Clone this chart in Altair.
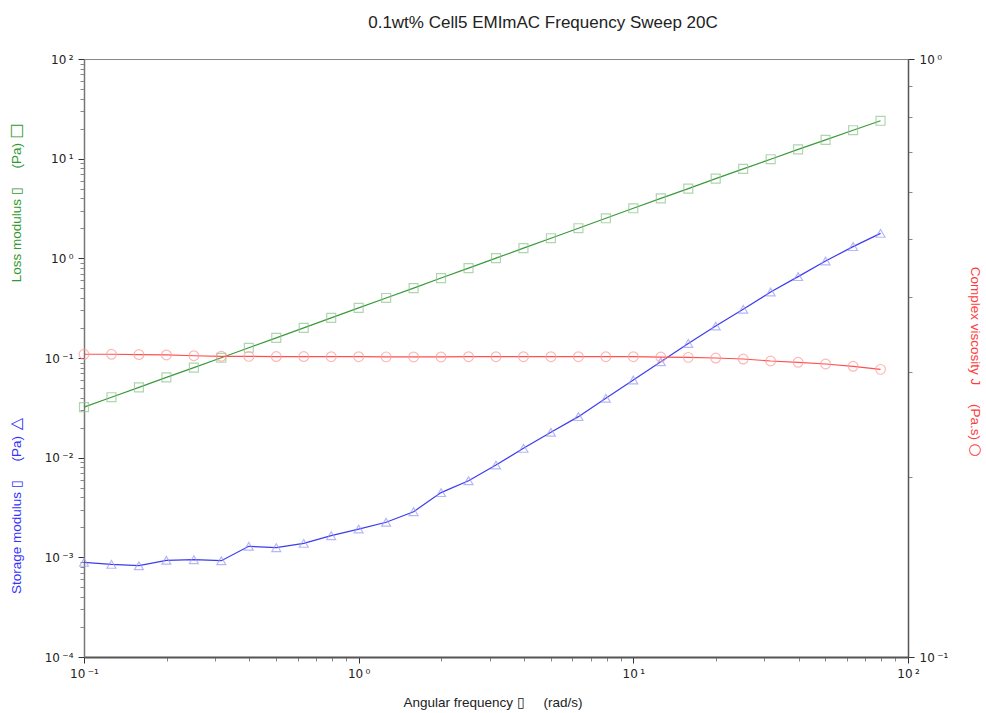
import altair as alt
import pandas as pd

# Frequency sweep at 20 C: angular frequency (rad/s)
freq = [0.1, 0.1259, 0.1585, 0.1995, 0.2512, 0.3162, 0.3981, 0.5012, 0.631, 0.7943,
        1.0, 1.259, 1.585, 1.995, 2.512, 3.162, 3.981, 5.012, 6.31, 7.943,
        10.0, 12.59, 15.85, 19.95, 25.12, 31.62, 39.81, 50.12, 63.1, 79.43]

# Loss modulus G'' (Pa)
loss_modulus = [0.0321, 0.0404, 0.0507, 0.0639, 0.0801, 0.1005, 0.1266, 0.159, 0.2007, 0.2525,
                0.318, 0.400, 0.502, 0.634, 0.798, 1.005, 1.265, 1.592, 2.005, 2.523,
                3.178, 3.996, 5.01, 6.31, 7.91, 9.87, 12.38, 15.45, 19.3, 24.0]

# Storage modulus G' (Pa)
storage_modulus = [8.9e-4, 8.5e-4, 8.24e-4, 9.34e-4, 9.47e-4, 9.25e-4, 1.29e-3, 1.25e-3, 1.38e-3, 1.65e-3,
                   1.92e-3, 2.25e-3, 2.87e-3, 4.46e-3, 5.87e-3, 8.43e-3, 1.24e-2, 1.80e-2, 2.58e-2, 3.94e-2,
                   6.01e-2, 9.18e-2, 0.140, 0.209, 0.308, 0.459, 0.655, 0.94, 1.31, 1.78]

# Complex viscosity (Pa.s)
complex_viscosity = [0.3208, 0.3208, 0.3204, 0.3200, 0.319, 0.3183, 0.3182, 0.318, 0.318, 0.3178,
                     0.3178, 0.3176, 0.3175, 0.3175, 0.3178, 0.3178, 0.3178, 0.3178, 0.3178, 0.3178,
                     0.3178, 0.3174, 0.317, 0.3162, 0.315, 0.3126, 0.311, 0.309, 0.3063, 0.3027]

df = pd.DataFrame({
    "freq": freq,
    "loss": loss_modulus,
    "storage": storage_modulus,
    "visc": complex_viscosity,
})

FONT = "Liberation Sans"
LABEL_FONT = "DejaVu Sans"
GREEN_LINE, GREEN_MARK = "#3a9a3a", "#8fc48f"
BLUE_LINE, BLUE_MARK = "#3b3bf0", "#9a9af5"
RED_LINE, RED_MARK = "#ff5050", "#ff9a9a"
NB = "\u00a0"  # non-breaking space keeps the wide gaps in the titles


def log_ticks(lo, hi):
    """Decade ticks plus 2..9 minor ticks between 10^lo and 10^hi."""
    vals = []
    for e in range(lo, hi):
        for m in range(1, 10):
            vals.append(float(f"{m}e{e}"))
    vals.append(float(f"1e{hi}"))
    return vals


IS_MAJOR = "abs(log(datum.value)/LN10 - round(log(datum.value)/LN10)) < 0.001"
SUPERS = "['\u2009⁻⁴','\u2009⁻³','\u2009⁻²','\u2009⁻¹','\u2009⁰','\u2009¹','\u2009²']"
LABEL_EXPR = f"{IS_MAJOR} ? '10' + {SUPERS}[round(log(datum.value)/LN10) + 4] : ''"


def log_axis(orient, values, domain_color="#777", domain_width=1.5):
    return alt.Axis(
        orient=orient,
        title="",
        values=values,
        labelExpr=LABEL_EXPR,
        labelFont=LABEL_FONT,
        labelFontSize=12,
        labelColor="#222",
        labelPadding=5,
        labelOverlap=False,
        labelFlush=False,
        grid=False,
        domainColor=domain_color,
        domainWidth=domain_width,
        tickColor={"condition": {"test": IS_MAJOR, "value": "#333"}, "value": "#888"},
        tickSize={"condition": {"test": IS_MAJOR, "value": 6}, "value": 4},
        tickWidth=1,
    )


x_enc = alt.X(
    "freq:Q",
    scale=alt.Scale(type="log", domain=[0.1, 100], nice=False),
    axis=log_axis("bottom", log_ticks(-1, 2), domain_color="#555", domain_width=2),
)

left_scale = alt.Scale(type="log", domain=[1e-4, 100], nice=False)
right_scale = alt.Scale(type="log", domain=[0.1, 1], nice=False)

base = alt.Chart(df)

loss_line = base.mark_line(color=GREEN_LINE, strokeWidth=1.2).encode(
    x=x_enc,
    y=alt.Y("loss:Q", scale=left_scale, axis=log_axis("left", log_ticks(-4, 2))),
)
loss_pts = base.mark_point(shape="square", size=80, color=GREEN_MARK, strokeWidth=1.2).encode(
    x="freq:Q", y="loss:Q"
)
storage_line = base.mark_line(color=BLUE_LINE, strokeWidth=1.2).encode(
    x="freq:Q", y="storage:Q"
)
storage_pts = base.mark_point(shape="triangle-up", size=80, color=BLUE_MARK, strokeWidth=1.2).encode(
    x="freq:Q", y="storage:Q"
)

visc_line = base.mark_line(color=RED_LINE, strokeWidth=1.2).encode(
    x="freq:Q",
    y=alt.Y("visc:Q", scale=right_scale, axis=log_axis("right", log_ticks(-1, 0), domain_color="#555")),
)
visc_pts = base.mark_point(shape="circle", size=95, color=RED_MARK, strokeWidth=1.2).encode(
    x="freq:Q", y="visc:Q"
)

# Axis titles, coloured to match their series, with the series' marker glyph after each
titles = pd.DataFrame({
    "text": [f"Loss modulus ▯{NB * 5}(Pa)", f"Storage modulus ▯{NB * 5}(Pa)",
             f"Complex viscosity J{NB * 5}(Pa.s)", f"Angular frequency ▯{NB * 5}(rad/s)",
             "□", "△", "○"],
})


def axis_text(i, color, x, y, angle, align="center", size=13.5, font=FONT):
    return alt.Chart(titles.iloc[[i]]).mark_text(
        font=font, fontSize=size, color=color, angle=angle, align=align, baseline="middle"
    ).encode(text="text:N", x=alt.value(x), y=alt.value(y))


GREEN_TXT, BLUE_TXT, RED_TXT = "#2f9a2f", "#3333ff", "#ff3b3b"

left_group = alt.layer(
    loss_line, loss_pts, storage_line, storage_pts,
    axis_text(0, GREEN_TXT, -67, 84, 270, align="right"),
    axis_text(4, GREEN_TXT, -68, 72, 270, size=16, font="DejaVu Sans"),
    axis_text(1, BLUE_TXT, -67, 377, 270, align="right"),
    axis_text(5, BLUE_TXT, -68, 365, 270, size=16, font="DejaVu Sans"),
    axis_text(3, "#222", 409, 644, 0),
)
right_group = alt.layer(
    visc_line, visc_pts,
    axis_text(2, RED_TXT, 891, 381, 90, align="right"),
    axis_text(6, RED_TXT, 892, 391, 90, size=15, font="DejaVu Sans"),
)

chart = alt.layer(left_group, right_group).resolve_scale(y="independent").properties(
    width=824,
    height=598,
    padding={"left": 84, "top": 59, "right": 78, "bottom": 56},
    autosize=alt.AutoSizeParams(type="none"),
    background="white",
    title=alt.TitleParams(
        "0.1wt% Cell5 EMImAC Frequency Sweep 20C",
        font=FONT, fontSize=17, fontWeight="normal", color="#222",
        anchor="middle", dx=47, offset=21,
    ),
).configure_view(stroke="#888", strokeWidth=1)

chart.save("out.html", embed_options={"renderer": "svg", "actions": False})
